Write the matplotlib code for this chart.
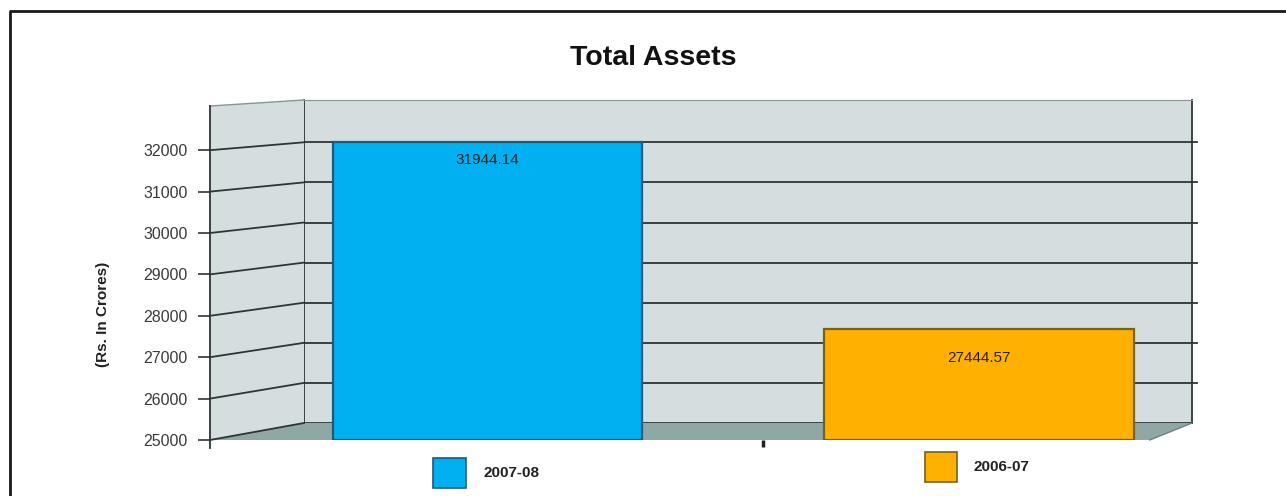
import matplotlib
matplotlib.use("Agg")
import matplotlib.pyplot as plt
from matplotlib.patches import Polygon, Rectangle
from matplotlib.lines import Line2D

years = ["2007-08", "2006-07"]
total_assets = [31944.14, 27444.57]
bar_colors = ["#00b0f0", "#ffb000"]
edge_colors = ["#1d5a7a", "#76611a"]
y_ticks = [25000, 26000, 27000, 28000, 29000, 30000, 31000, 32000]

W, H = 1286, 496
WALL = "#d4dede"
FLOOR = "#8fa8a5"
GRID = "#2f3535"

plt.rcParams["font.family"] = ["Liberation Sans", "DejaVu Sans"]


def box(x0, y0, x1, y1):
    # pixel box measured from the top-left corner -> figure fraction rect
    return [x0 / W, 1 - y1 / H, (x1 - x0) / W, (y1 - y0) / H]


def to_fig(trans, pt):
    return fig.transFigure.inverted().transform(trans.transform(pt))


fig = plt.figure(figsize=(W / 100, H / 100), dpi=100)

# back wall of the pseudo 3d box
back_ax = fig.add_axes(box(304, 100, 1192, 423))
back_ax.set_zorder(0)
back_ax.set_facecolor(WALL)
back_ax.set_xlim(0, 1)
back_ax.set_ylim(25000, 25000 + 323 / 0.0401)
back_ax.set_xticks([])
back_ax.set_yticks([])
for side in ["left", "right", "bottom"]:
    back_ax.spines[side].set_color(GRID)
    back_ax.spines[side].set_linewidth(1.3)
back_ax.spines["top"].set_color("#8a9494")
for v in y_ticks[1:]:
    back_ax.axhline(v, xmin=0, xmax=1.006, color=GRID, lw=1.3, clip_on=False)

# front plane carrying the value axis
front_ax = fig.add_axes(box(210, 106, 1192, 448))
front_ax.set_zorder(4)
front_ax.patch.set_visible(False)
front_ax.set_xlim(0, 1)
front_ax.set_ylim(25000 - 8 / 0.0414, 25000 + 334 / 0.0414)
front_ax.set_xticks([])
front_ax.set_yticks(y_ticks)
front_ax.set_yticklabels([str(t) for t in y_ticks])
front_ax.tick_params(axis="y", length=9, width=1.2, color=GRID, pad=7,
                     labelsize=11.5, labelcolor="#3a3a3a")
for side in ["top", "right", "bottom"]:
    front_ax.spines[side].set_visible(False)
front_ax.spines["left"].set_color(GRID)
front_ax.spines["left"].set_linewidth(1.3)

fy = front_ax.get_yaxis_transform()
by = back_ax.get_yaxis_transform()
f_top = to_fig(front_ax.transAxes, (0, 1))
b_top = to_fig(back_ax.transAxes, (0, 1))
f_bot = to_fig(fy, (0, 25000))
b_bot = to_fig(by, (0, 25000))
b_right = to_fig(by, (1, 25000))
f_right = to_fig(fy, (0.957, 25000))

# left wall and floor
fig.add_artist(Polygon([f_top, b_top, b_bot, f_bot], closed=True,
                       facecolor=WALL, edgecolor="none", zorder=1))
fig.add_artist(Polygon([f_bot, b_bot, b_right, f_right], closed=True,
                       facecolor=FLOOR, edgecolor="none", zorder=1))
fig.add_artist(Line2D([f_top[0], b_top[0]], [f_top[1], b_top[1]],
                      color="#8a9494", lw=1, zorder=2))
fig.add_artist(Line2D([f_bot[0], b_bot[0]], [f_bot[1], b_bot[1]],
                      color=GRID, lw=1.3, zorder=2))
fig.add_artist(Line2D([b_right[0], f_right[0]], [b_right[1], f_right[1]],
                      color="#6d8482", lw=1, zorder=2))
for v in y_ticks[1:]:
    p = to_fig(fy, (0, v))
    q = to_fig(by, (0, v))
    fig.add_artist(Line2D([p[0], q[0]], [p[1], q[1]], color=GRID, lw=1.3, zorder=2))

# bars
bar_ax = fig.add_axes(box(210, 106, 1192, 440))
bar_ax.set_zorder(5)
bar_ax.patch.set_visible(False)
bar_ax.set_xlim(-0.5646, 1.4334)
bar_ax.set_ylim(24774, 32810)
base = bar_ax.get_ylim()[0]
x = list(range(len(years)))
heights = [v - base for v in total_assets]
bar_ax.bar(x, heights, bottom=base, width=0.63, color=bar_colors,
           edgecolor=edge_colors, linewidth=1.6)
label_offsets = [-13, -21]
for i, v in enumerate(total_assets):
    bar_ax.annotate(f"{v:.2f}", (i, v), xytext=(0, label_offsets[i]),
                    textcoords="offset points", ha="center", va="center",
                    fontsize=11, color="#222222")
bar_ax.set_yticks([])
bar_ax.set_xticks([0.56])
bar_ax.tick_params(axis="x", length=5, width=2.5, color="#222222", labelbottom=False)
for side in bar_ax.spines:
    bar_ax.spines[side].set_visible(False)

# legend boxes under the bars
legend_boxes = [(433, 458, 466, 488), (925, 452, 957, 482)]
for (x0, y0, x1, y1), c, ec, lab in zip(legend_boxes, bar_colors, edge_colors, years):
    fig.add_artist(Rectangle((x0 / W, 1 - y1 / H), (x1 - x0) / W, (y1 - y0) / H,
                             facecolor=c, edgecolor=ec, lw=1.2))
    fig.text((x1 + 17) / W, 1 - (y0 + y1) / 2 / H, lab, ha="left", va="center",
             fontsize=11, fontweight="bold", color="#222222")

fig.text(653 / W, 1 - 58 / H, "Total Assets", ha="center", va="center",
         fontsize=20.5, fontweight="bold", color="#111111")
fig.text(103 / W, 1 - 314 / H, "(Rs. In Crores)", ha="center", va="center",
         rotation=90, fontsize=11, fontweight="bold", color="#222222")

# outer frame, left and top only
fig.add_artist(Line2D([9.5 / W, 9.5 / W], [1 - 11 / H, 0], color="#1a1a1a", lw=2,
                      solid_capstyle="butt"))
fig.add_artist(Line2D([8.5 / W, 1], [1 - 11 / H, 1 - 11 / H], color="#1a1a1a", lw=2,
                      solid_capstyle="butt"))

fig.savefig("out.png", dpi=100)
